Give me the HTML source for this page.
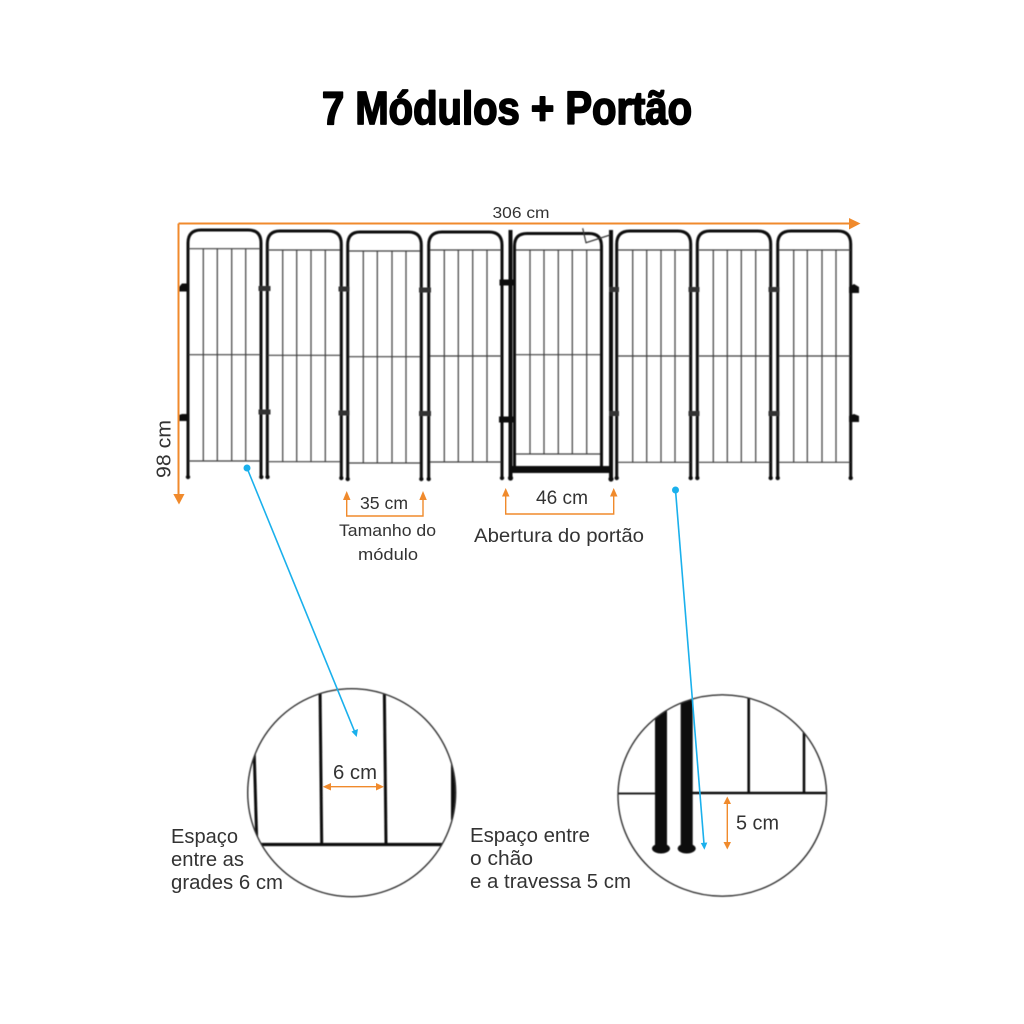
<!DOCTYPE html>
<html lang="pt">
<head>
<meta charset="utf-8">
<title>7 Módulos + Portão</title>
<style>
html,body{margin:0;padding:0;background:#fff;width:1024px;height:1024px;overflow:hidden}
svg{display:block}
text{font-family:"Liberation Sans",sans-serif;fill:#333}
.post{fill:none;stroke:#111;stroke-width:3}
.mesh{fill:none;stroke:#3c3c3c;stroke-width:1.2}
.clamp{fill:#333;stroke:none}
.or{fill:none;stroke:#f08a2c;stroke-width:1.4}
.orh{fill:#f08a2c;stroke:none}
.bl{fill:none;stroke:#1ab0ec;stroke-width:1.6}
.blh{fill:#1ab0ec;stroke:none}
</style>
</head>
<body>
<svg width="1024" height="1024" viewBox="0 0 1024 1024" xmlns="http://www.w3.org/2000/svg">
<defs>
<filter id="s" x="-2%" y="-2%" width="104%" height="104%"><feGaussianBlur stdDeviation="0.45"/></filter>
<clipPath id="c1"><circle cx="351.7" cy="792.7" r="104"/></clipPath>
<clipPath id="c2"><ellipse cx="722.3" cy="795.5" rx="104.3" ry="100.7"/></clipPath>
</defs>

<text x="322" y="124" font-size="46" font-weight="700" textLength="370" lengthAdjust="spacingAndGlyphs" style="fill:#000;stroke:#000;stroke-width:1.8;stroke-linejoin:round">7 Módulos + Portão</text>

<g filter="url(#s)">
<!-- Panel 1 -->
<path class="post" d="M188,477V243Q188,230 201,230H248Q261,230 261,243V477"/>
<path class="mesh" d="M189,248.7H260M189,354.7H260M189,461H260M203.3,249V461M217.3,249V461M231.7,249V461M245.7,249V461"/>
<!-- Panel 2 -->
<path class="post" d="M267.3,477V244Q267.3,231 280,231H328.5Q341.3,231 341.3,244V478"/>
<path class="mesh" d="M268,250H340M268,355.3H340M268,461.7H340M282.7,250V462M296.7,250V462M311,250V462M325.3,250V462"/>
<!-- Panel 3 -->
<path class="post" d="M347.7,478V245Q347.7,232 360,232H408.5Q421.3,232 421.3,245V479"/>
<path class="mesh" d="M349,251H420M349,356.7H420M349,463H420M363.3,251V463M377.3,251V463M392,251V463M406,251V463"/>
<!-- Panel 4 -->
<path class="post" d="M428.7,479V245Q428.7,232 442,232H489Q502,232 502,245V478"/>
<path class="mesh" d="M430,250H501M430,356H501M430,462H501M444.3,250V462M458.3,250V462M472.7,250V462M487,250V462"/>
<!-- Gate -->
<path class="post" d="M510.5,230V478" style="stroke-width:4"/>
<path class="post" d="M611,230V478" style="stroke-width:4"/>
<path class="post" d="M514.5,468V246Q514.5,233.5 527,233.5H589Q601.5,233.5 601.5,246V468"/>
<path class="mesh" d="M516,250H600M516,354.7H600M516,454H600M530,250V454M544,250V454M558.3,250V454M572.3,250V454M586.7,250V454"/>
<rect x="510" y="466" width="101" height="7" fill="#111"/>
<path fill="none" stroke="#333" stroke-width="1.2" d="M582.7,228.3L586,242.7L610,235"/>
<!-- Panel 6 -->
<path class="post" d="M616.7,478V244Q616.7,231 630,231H677.7Q690.7,231 690.7,244V478"/>
<path class="mesh" d="M618,250H690M618,356H690M618,462.3H690M632.7,250V462M646.7,250V462M661,250V462M675,250V462"/>
<!-- Panel 7 -->
<path class="post" d="M697.3,478V244Q697.3,231 710,231H757.7Q770.7,231 770.7,244V478"/>
<path class="mesh" d="M699,250H770M699,356H770M699,462.3H770M713.3,250V462M727.3,250V462M741.3,250V462M755.7,250V462"/>
<!-- Panel 8 -->
<path class="post" d="M777.7,478V244Q777.7,231 791,231H837.7Q850.7,231 850.7,244V478"/>
<path class="mesh" d="M779,250H850M779,356H850M779,462.3H850M793.7,250V462M807.3,250V462M822,250V462M836,250V462"/>
<!-- Caps -->
<g fill="#111">
<circle cx="188" cy="477" r="2.2"/><circle cx="261.3" cy="477" r="2.2"/><circle cx="267.5" cy="477" r="2.2"/><circle cx="341.3" cy="478" r="2.2"/><circle cx="347.7" cy="479" r="2.2"/><circle cx="421.3" cy="479" r="2.2"/><circle cx="428.7" cy="479" r="2.2"/><circle cx="502" cy="478" r="2.2"/><circle cx="510.5" cy="478" r="2.6"/><circle cx="611" cy="479" r="2.6"/><circle cx="616.7" cy="478" r="2.2"/><circle cx="690.7" cy="478" r="2.2"/><circle cx="697.3" cy="478" r="2.2"/><circle cx="770.7" cy="478" r="2.2"/><circle cx="777.7" cy="478" r="2.2"/><circle cx="850.7" cy="478" r="2.2"/>
</g>
<!-- Clamps -->
<g class="clamp">
<rect x="258.5" y="286" width="12" height="5"/><rect x="258.5" y="409.5" width="12" height="5"/>
<rect x="338.5" y="286.5" width="11" height="5"/><rect x="338.5" y="410.5" width="11" height="5"/>
<rect x="419" y="287.5" width="12" height="5"/><rect x="419" y="411" width="12" height="5"/>
<rect x="499.5" y="279.5" width="14" height="6" fill="#111"/><rect x="499" y="416.5" width="15" height="6" fill="#111"/>
<rect x="609" y="287" width="10" height="5"/><rect x="609" y="411" width="10" height="5"/>
<rect x="688.5" y="287" width="11" height="5"/><rect x="688.5" y="411" width="11" height="5"/>
<rect x="768.5" y="287" width="11" height="5"/><rect x="768.5" y="411" width="11" height="5"/>
</g>
<g fill="#111">
<path d="M179,287L182,283.5H186.5V291.5H179Z"/><path d="M179,415L182,414H186.5V421H179Z"/>
<path d="M849,287L854,284L859,287V293H849Z"/><path d="M849,416L854,414L859,416V422H849Z"/>
</g>
</g>

<!-- Orange dimension lines -->
<path fill="none" stroke="#f08a2c" stroke-width="2" d="M178.5,223.5H850M178.5,223.5V496"/>
<path class="orh" d="M849,218L860.5,223.5L849,229.5Z"/>
<path class="orh" d="M173.3,494H184.5L179,504.5Z"/>
<path class="or" d="M346.7,497V516H423V497"/>
<path class="orh" d="M343,500L346.7,491L350.5,500Z"/>
<path class="orh" d="M419.3,500L423,491L426.8,500Z"/>
<path class="or" d="M505.7,495V514H613.7V495"/>
<path class="orh" d="M502,496.5L505.7,488L509.5,496.5Z"/>
<path class="orh" d="M610,496.5L613.7,488L617.5,496.5Z"/>

<!-- Labels -->
<text x="492.5" y="218" font-size="15.5" textLength="57" lengthAdjust="spacingAndGlyphs">306 cm</text>
<text transform="translate(170.5,478) rotate(-90)" font-size="20" textLength="58" lengthAdjust="spacingAndGlyphs">98 cm</text>
<text x="360" y="509" font-size="17.5" textLength="48" lengthAdjust="spacingAndGlyphs">35 cm</text>
<text x="339" y="536" font-size="17" textLength="97" lengthAdjust="spacingAndGlyphs">Tamanho do</text>
<text x="358" y="560" font-size="17" textLength="60" lengthAdjust="spacingAndGlyphs">módulo</text>
<text x="536" y="504" font-size="19" textLength="52" lengthAdjust="spacingAndGlyphs">46 cm</text>
<text x="474" y="542" font-size="19.5" textLength="170" lengthAdjust="spacingAndGlyphs">Abertura do portão</text>

<!-- Detail circle 1 -->
<g filter="url(#s)">
<g clip-path="url(#c1)" fill="none" stroke="#111" stroke-width="3">
<path d="M320,688L321.7,844M384.3,688L386,844M254,745L256.7,840"/>
<path d="M453.5,760V820" stroke-width="5"/>
<path d="M260.7,844.5H442.7" stroke-width="3.2"/>
</g>
<circle cx="351.7" cy="792.7" r="104" fill="none" stroke="#333" stroke-width="1.4"/>
<!-- Detail circle 2 -->
<g clip-path="url(#c2)">
<rect x="655" y="690" width="12" height="160" fill="#0a0a0a"/>
<rect x="680.7" y="690" width="12" height="160" fill="#0a0a0a"/>
<ellipse cx="661" cy="848.5" rx="9" ry="5" fill="#0a0a0a"/>
<ellipse cx="686.7" cy="848.5" rx="9" ry="5" fill="#0a0a0a"/>
<path fill="none" stroke="#111" stroke-width="2.6" d="M748.7,690V793M804,725V793M692,793H830"/>
<path fill="none" stroke="#222" stroke-width="2" d="M615,793.5H655"/>
</g>
<ellipse cx="722.3" cy="795.5" rx="104.3" ry="100.7" fill="none" stroke="#333" stroke-width="1.4"/>
</g>

<!-- Detail dimension arrows -->
<path class="or" d="M328,786.7H380"/>
<path class="orh" d="M322.7,786.7L331,783V790.5Z"/>
<path class="orh" d="M384,786.7L376,783V790.5Z"/>
<path class="or" d="M727.3,802V845"/>
<path class="orh" d="M723.5,804L727.3,796.5L731,804Z"/>
<path class="orh" d="M723.5,842L727.3,849.5L731,842Z"/>

<text x="333" y="779" font-size="20" textLength="44" lengthAdjust="spacingAndGlyphs">6 cm</text>
<text x="736" y="829.5" font-size="20" textLength="43" lengthAdjust="spacingAndGlyphs">5 cm</text>
<text x="171" y="843" font-size="20" textLength="67" lengthAdjust="spacingAndGlyphs">Espaço</text>
<text x="171" y="866" font-size="20" textLength="73" lengthAdjust="spacingAndGlyphs">entre as</text>
<text x="171" y="889" font-size="20" textLength="112" lengthAdjust="spacingAndGlyphs">grades 6 cm</text>
<text x="470" y="842" font-size="20" textLength="120" lengthAdjust="spacingAndGlyphs">Espaço entre</text>
<text x="470" y="865" font-size="20" textLength="63" lengthAdjust="spacingAndGlyphs">o chão</text>
<text x="470" y="888" font-size="20" textLength="161" lengthAdjust="spacingAndGlyphs">e a travessa 5 cm</text>

<!-- Blue leader lines -->
<path class="bl" d="M247,468L354.8,732"/>
<circle class="blh" cx="247" cy="468" r="3.5"/>
<path class="blh" d="M351.5,731.5L358,729L356.7,737Z"/>
<path class="bl" d="M675.5,490L704,844"/>
<circle class="blh" cx="675.5" cy="490" r="3.5"/>
<path class="blh" d="M700.8,843L707.3,842.5L704.4,849.8Z"/>
</svg>
</body>
</html>
